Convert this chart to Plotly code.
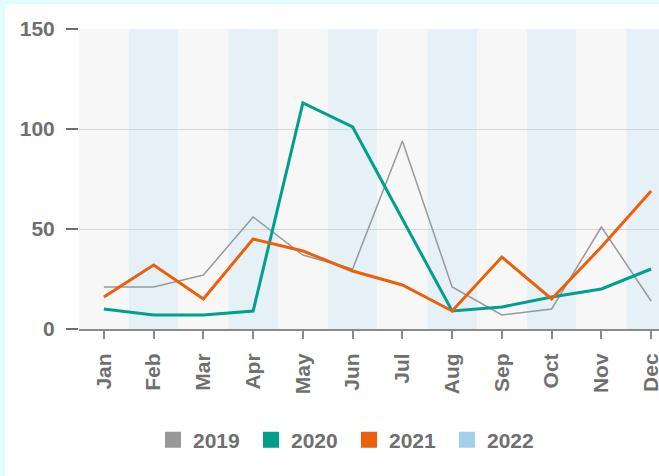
import plotly.graph_objects as go

months = ['Jan', 'Feb', 'Mar', 'Apr', 'May', 'Jun', 'Jul', 'Aug', 'Sep', 'Oct', 'Nov', 'Dec']
y2019 = [21, 21, 27, 56, 37, 30, 94, 21, 7, 10, 51, 14]
y2020 = [10, 7, 7, 9, 113, 101, 55, 9, 11, 16, 20, 30]
y2021 = [16, 32, 15, 45, 39, 29, 22, 9, 36, 15, 41, 69]
years = ['2019', '2020', '2021', '2022']
colors = ['#999999', '#00a08b', '#ec5f0b', '#a3d0ee']
widths = [1.5, 3, 3, 3]
series = [y2019, y2020, y2021, []]
yticks = [0, 50, 100, 150]

W, H = 676, 476
L, T, B = 79, 29, 147
pw, ph = W - L, H - T - B

fig = go.Figure()
xs = list(range(len(months)))

for name, vals, col, w in zip(years, series, colors, widths):
    if vals:
        fig.add_trace(go.Scatter(x=xs, y=vals, mode='lines', name=name,
                                 line=dict(color=col, width=w),
                                 showlegend=False, legendgroup=name))
    # square legend swatch
    fig.add_trace(go.Scatter(x=[None], y=[None], mode='markers', name=name,
                             marker=dict(symbol='square', size=16, color=col),
                             legendgroup=name))

# white card on cyan page
fig.add_shape(type='rect', xref='paper', yref='paper',
              x0=(5 - L) / pw, x1=1.2, y0=-0.7, y1=(ph + T - 4) / ph,
              fillcolor='white', line_width=0, layer='below')

# alternating month bands
for i in xs:
    fig.add_shape(type='rect', xref='x', yref='y',
                  x0=i - 0.5, x1=i + 0.5, y0=0, y1=150,
                  fillcolor='#f7f7f7' if i % 2 == 0 else '#e5f0f7',
                  line_width=0, layer='below')

# white highlight under the grid lines
for v in yticks[1:3]:
    fig.add_shape(type='line', xref='paper', yref='y', x0=0, x1=1, y0=v - 1.2, y1=v - 1.2,
                  line=dict(color='white', width=1.5), layer='below')

font = dict(family='Liberation Sans, Arial', size=21, color='#6f6f6f', weight='bold')

fig.update_layout(
    width=W, height=H,
    margin=dict(l=L, r=0, t=T, b=B),
    paper_bgcolor='#e2fdfb',
    plot_bgcolor='white',
    showlegend=True,
    legend=dict(orientation='h', x=(349 - L) / pw, xanchor='center', y=-111 / ph,
                yanchor='middle', font=font, bgcolor='rgba(0,0,0,0)',
                entrywidth=53, entrywidthmode='pixels'),
    xaxis=dict(range=[-0.5, 11.5], tickvals=xs, ticktext=months, tickangle=-90,
               showgrid=False, zeroline=False, showline=True, linecolor='#8a8a8a', linewidth=2,
               ticks='outside', ticklen=8, tickwidth=2, tickcolor='#8a8a8a',
               tickfont=font, ticklabelstandoff=6),
    yaxis=dict(range=[0, 150], tickvals=yticks, showgrid=True, gridcolor='#d6d6d6', gridwidth=1,
               zeroline=False, showline=False,
               ticks='outside', ticklen=12, tickwidth=2, tickcolor='#6f6f6f',
               tickfont=font, ticklabelstandoff=7),
)

fig.write_html("out.html", config={'displayModeBar': False},
               post_script="document.body.style.margin='0';document.body.style.overflow='hidden';")
